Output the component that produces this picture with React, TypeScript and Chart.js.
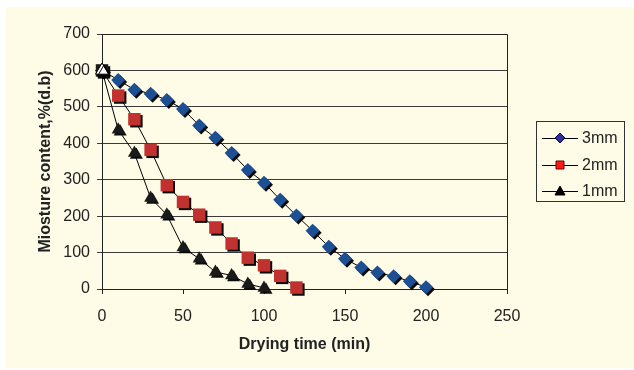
import React, { useEffect, useRef } from 'react';
import { Chart, registerables } from 'chart.js';

Chart.register(...registerables);

const time3mm = [0, 10, 20, 30, 40, 50, 60, 70, 80, 90, 100, 110, 120, 130, 140, 150, 160, 170, 180, 190, 200];
const moisture3mm = [600, 574, 547, 536, 519, 494, 449, 415, 373, 327, 292, 245, 202, 160, 116, 83, 59, 45, 35, 21, 5];
const time2mm = [0, 10, 20, 30, 40, 50, 60, 70, 80, 90, 100, 110, 120];
const moisture2mm = [600, 531, 466, 382, 285, 239, 204, 169, 125, 86, 65, 36, 4];
const time1mm = [0, 10, 20, 30, 40, 50, 60, 70, 80, 90, 100];
const moisture1mm = [600, 437, 373, 250, 204, 114, 83, 47, 37, 14, 3];
const seriesLabels = ['3mm', '2mm', '1mm'];
const xTitle = 'Drying time (min)';
const yTitle = 'Miosture content,%(d.b)';

const FONT = 'Arial, "Liberation Sans", sans-serif';
const CREAM = '#FEFCE7';

const pts = (xs: number[], ys: number[]) => xs.map((x, i) => ({ x, y: ys[i] }));

const shadowPlugin = {
  id: 'markerShadow',
  beforeDatasetDraw(chart: any, args: any) {
    const ds = chart.data.datasets[args.index];
    if (ds.showLine === false) {
      const ctx = chart.ctx;
      ctx.save();
      ctx.shadowColor = 'rgba(0,0,0,0.95)';
      ctx.shadowOffsetX = 2;
      ctx.shadowOffsetY = 2;
      ctx.shadowBlur = 0;
    }
  },
  afterDatasetDraw(chart: any, args: any) {
    const ds = chart.data.datasets[args.index];
    if (ds.showLine === false) chart.ctx.restore();
  },
};

const frameAndLegendPlugin = {
  id: 'frameLegend',
  beforeDatasetsDraw(chart: any) {
    const { ctx, chartArea } = chart;
    ctx.save();
    ctx.strokeStyle = '#222';
    ctx.lineWidth = 1;
    ctx.beginPath();
    ctx.moveTo(chartArea.left, chartArea.top + 0.5);
    ctx.lineTo(Math.round(chartArea.right) + 0.5, chartArea.top + 0.5);
    ctx.lineTo(Math.round(chartArea.right) + 0.5, chartArea.bottom);
    ctx.stroke();
    ctx.restore();
  },
  afterDraw(chart: any) {
    const ctx = chart.ctx;
    const bx = 530, by = 114, bw = 88, bh = 80;
    ctx.save();
    ctx.fillStyle = CREAM;
    ctx.fillRect(bx, by, bw, bh);
    ctx.strokeStyle = '#333';
    ctx.lineWidth = 1;
    ctx.strokeRect(bx + 0.5, by + 0.5, bw, bh);
    const ys = [131, 158, 184];
    seriesLabels.forEach((lab, i) => {
      const y = ys[i];
      ctx.strokeStyle = '#000';
      ctx.lineWidth = 1;
      ctx.beginPath();
      ctx.moveTo(536, y + 0.5);
      ctx.lineTo(572, y + 0.5);
      ctx.stroke();
      const cx = 554;
      ctx.beginPath();
      if (i === 0) {
        ctx.moveTo(cx, y - 5);
        ctx.lineTo(cx + 5, y);
        ctx.lineTo(cx, y + 5);
        ctx.lineTo(cx - 5, y);
        ctx.closePath();
        ctx.fillStyle = '#2E3192';
        ctx.strokeStyle = '#000066';
      } else if (i === 1) {
        ctx.rect(cx - 4, y - 4, 8, 8);
        ctx.fillStyle = '#FF1A1A';
        ctx.strokeStyle = '#600';
      } else {
        ctx.moveTo(cx, y - 5);
        ctx.lineTo(cx + 5, y + 4);
        ctx.lineTo(cx - 5, y + 4);
        ctx.closePath();
        ctx.fillStyle = '#000';
        ctx.strokeStyle = '#000';
      }
      ctx.fill();
      ctx.stroke();
      ctx.fillStyle = '#222';
      ctx.font = `16px ${FONT}`;
      ctx.textBaseline = 'middle';
      ctx.textAlign = 'left';
      ctx.fillText(lab, 576, y + 1);
    });
    ctx.restore();
  },
};

export default function App() {
  const ref = useRef<HTMLCanvasElement | null>(null);

  useEffect(() => {
    if (!ref.current) return;
    Chart.defaults.font.family = FONT;
    const markerBase = { showLine: false, clip: false as any, borderWidth: 0 };
    const chart = new Chart(ref.current, {
      type: 'line',
      data: {
        datasets: [
          {
            ...markerBase,
            label: seriesLabels[2],
            data: pts(time1mm, moisture1mm),
            pointStyle: 'triangle',
            pointRadius: 7.5,
            pointBackgroundColor: time1mm.map((_, i) => (i === 0 ? '#FFFFFF' : '#1A1A1A')),
            pointBorderColor: '#000',
            pointBorderWidth: time1mm.map((_, i) => (i === 0 ? 1 : 0)),
          },
          {
            ...markerBase,
            label: seriesLabels[1],
            data: pts(time2mm, moisture2mm),
            pointStyle: 'rect',
            pointRadius: 8.8,
            pointBackgroundColor: time2mm.map((_, i) => (i === 0 ? '#1A1A1A' : '#C0312F')),
            pointBorderWidth: 0,
          },
          {
            ...markerBase,
            label: seriesLabels[0],
            data: pts(time3mm, moisture3mm),
            pointStyle: 'rectRot',
            pointRadius: 7,
            pointBackgroundColor: time3mm.map((_, i) => (i === 0 ? '#1A1A1A' : '#1C4F93')),
            pointBorderWidth: 0,
          },
          {
            label: seriesLabels[2] + ' line',
            data: pts(time1mm, moisture1mm),
            borderColor: '#000',
            borderWidth: 1,
            pointRadius: 0,
            tension: 0,
            clip: false as any,
          },
          {
            label: seriesLabels[1] + ' line',
            data: pts(time2mm, moisture2mm),
            borderColor: '#000',
            borderWidth: 1,
            pointRadius: 0,
            tension: 0,
            clip: false as any,
          },
          {
            label: seriesLabels[0] + ' line',
            data: pts(time3mm, moisture3mm),
            borderColor: '#000',
            borderWidth: 1,
            pointRadius: 0,
            tension: 0,
            clip: false as any,
          },
        ],
      },
      options: {
        animation: false,
        responsive: false,
        maintainAspectRatio: false,
        layout: { padding: { left: 0, top: 27, right: 127, bottom: 0 } },
        plugins: {
          legend: { display: false },
          tooltip: { enabled: false },
        },
        scales: {
          x: {
            type: 'linear',
            min: 0,
            max: 250,
            ticks: { stepSize: 50, color: '#222', font: { size: 16 }, padding: 13 },
            grid: { drawOnChartArea: false, drawTicks: true, tickLength: 5, color: '#222' },
            border: { color: '#222', width: 1 },
            title: {
              display: true,
              text: xTitle,
              color: '#222',
              font: { size: 16, weight: 'bold' },
              padding: { top: 0, bottom: 14 },
            },
            afterFit: (s: any) => {
              s.height = 79;
            },
          },
          y: {
            min: 0,
            max: 700,
            ticks: { stepSize: 100, color: '#222', font: { size: 16 }, padding: 7 },
            grid: { color: '#3a3a3a', lineWidth: 1, drawTicks: true, tickLength: 5 },
            border: { color: '#222', width: 1 },
            title: {
              display: true,
              text: yTitle,
              color: '#222',
              font: { size: 16, weight: 'bold' },
              padding: { top: 30, bottom: 0 },
            },
            afterFit: (s: any) => {
              s.width = 96;
            },
          },
        },
      },
      plugins: [shadowPlugin, frameAndLegendPlugin],
    } as any);
    return () => chart.destroy();
  }, []);

  return (
    <div style={{ position: 'absolute', left: 0, top: 0, width: 634, height: 370, background: '#FFFFFF' }}>
      <div style={{ position: 'absolute', left: 6, top: 7, width: 628, height: 361, background: CREAM }}>
        <canvas ref={ref} width={628} height={361} style={{ display: 'block', width: 628, height: 361 }} />
      </div>
    </div>
  );
}
